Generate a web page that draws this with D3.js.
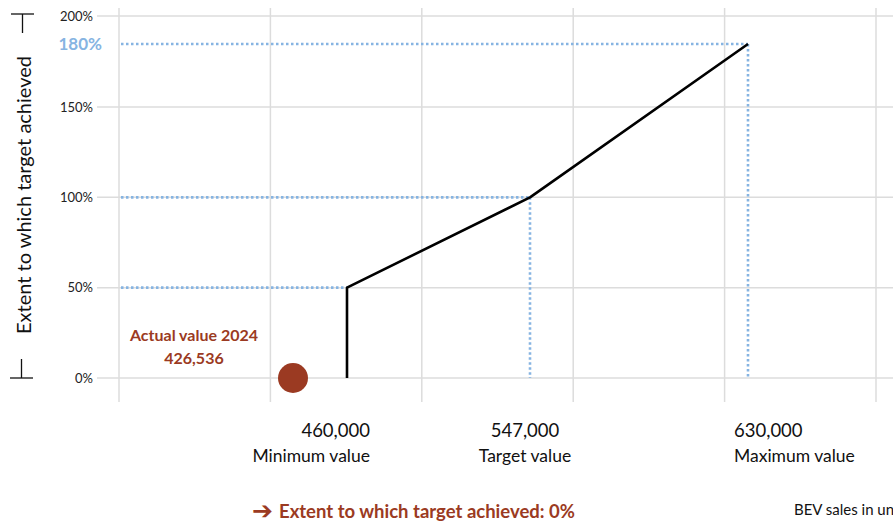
<!DOCTYPE html>
<html>
<head>
<meta charset="utf-8">
<script src="https://cdn.jsdelivr.net/npm/d3@7"></script>
<style>
  html, body { margin: 0; padding: 0; background: #fff; }
  svg { display: block; font-family: Lato, "Open Sans", sans-serif; }
</style>
</head>
<body>
<div id="chart"></div>
<script>
// ---- data ----
const yTicks = [0, 50, 100, 150, 200];
const thresholdNames = ["Minimum value", "Target value", "Maximum value"];
const thresholdValues = [460000, 547000, 630000];
const thresholdAchievement = [50, 100, 180];
const actualLabel = "Actual value 2024";
const actualValue = 426536;
const actualAchievement = 0;
const curveX = [460000, 460000, 547000, 630000];
const curveY = [0, 50, 100, 180];
const yTitle = "Extent to which target achieved";
const resultText = "Extent to which target achieved: 0%";
const unitText = "BEV sales in units";

// ---- layout ----
const W = 893, H = 524;
const svg = d3.select("#chart").append("svg").attr("width", W).attr("height", H);

// schematic (piecewise) scales, as in the original drawing
const y = d3.scaleLinear().domain([0, 150, 180, 200]).range([378, 107, 44, 16]);
const x = d3.scaleLinear()
  .domain([actualValue, ...thresholdValues])
  .range([293, 347, 530, 748]);
// vertical grid positions
const gx = d3.scaleLinear().domain([0, 5]).range([119, 876]);

const gridColor = "#dcdcdc";
const blue = "#86b4e2";
const red = "#9b3a22";

// grid
svg.append("g").selectAll("line").data(d3.range(6)).join("line")
  .attr("x1", d => gx(d)).attr("x2", d => gx(d))
  .attr("y1", 8).attr("y2", 402)
  .attr("stroke", gridColor).attr("stroke-width", 1.5);
svg.append("g").selectAll("line").data(yTicks).join("line")
  .attr("x1", 97).attr("x2", W)
  .attr("y1", d => y(d)).attr("y2", d => y(d))
  .attr("stroke", gridColor).attr("stroke-width", 1.5);

// y tick labels
svg.append("g").selectAll("text").data(yTicks).join("text")
  .attr("x", 93).attr("y", d => y(d)).attr("dy", "0.35em")
  .attr("text-anchor", "end").attr("font-size", 13).attr("fill", "#222")
  .text(d => d + "%");

// dotted guide lines
const guides = svg.append("g").attr("stroke", blue).attr("stroke-width", 2.6)
  .attr("stroke-dasharray", "2.5,2.5").attr("fill", "none");
thresholdValues.forEach((v, i) => {
  guides.append("line")
    .attr("x1", gx(0) + 2).attr("x2", x(v))
    .attr("y1", y(thresholdAchievement[i])).attr("y2", y(thresholdAchievement[i]));
  if (i > 0) {
    guides.append("line")
      .attr("x1", x(v)).attr("x2", x(v))
      .attr("y1", y(thresholdAchievement[i])).attr("y2", y(0));
  }
});

// 180% label
svg.append("text")
  .attr("x", 102).attr("y", y(thresholdAchievement[2])).attr("dy", "0.35em")
  .attr("text-anchor", "end").attr("font-size", 17).attr("font-weight", "bold")
  .attr("fill", blue).text(thresholdAchievement[2] + "%");

// curve
const pts = curveX.map((v, i) => [x(v), y(curveY[i])]);
svg.append("path")
  .attr("d", d3.line()(pts))
  .attr("fill", "none").attr("stroke", "#000").attr("stroke-width", 2.6)
  .attr("stroke-linejoin", "round");

// actual value
svg.append("circle")
  .attr("cx", x(actualValue)).attr("cy", y(actualAchievement)).attr("r", 15)
  .attr("fill", red);
const al = svg.append("text").attr("text-anchor", "middle")
  .attr("font-size", 16).attr("font-weight", "bold").attr("fill", red);
al.append("tspan").attr("x", 194).attr("y", 341).text(actualLabel);
al.append("tspan").attr("x", 194).attr("y", 364).text(d3.format(",")(actualValue));

// x threshold labels
const anchors = ["end", "middle", "start"];
const offsets = [23, -5, -14];
thresholdValues.forEach((v, i) => {
  const t = svg.append("text").attr("text-anchor", anchors[i]).attr("fill", "#111");
  t.append("tspan").attr("x", x(v) + offsets[i]).attr("y", 437)
    .attr("font-size", 18.5).text(d3.format(",")(v));
  t.append("tspan").attr("x", x(v) + offsets[i]).attr("y", 462)
    .attr("font-size", 17.5).text(thresholdNames[i]);
});

// y title with bracket marks
svg.append("text")
  .attr("transform", "translate(31,195) rotate(-90)")
  .attr("text-anchor", "middle").attr("font-size", 20).attr("fill", "#111")
  .text(yTitle);
const br = svg.append("g").attr("stroke", "#111").attr("stroke-width", 1.3);
br.append("line").attr("x1", 11).attr("x2", 34).attr("y1", 14).attr("y2", 14);
br.append("line").attr("x1", 22.5).attr("x2", 22.5).attr("y1", 14).attr("y2", 33);
br.append("line").attr("x1", 10).attr("x2", 33).attr("y1", 378).attr("y2", 378);
br.append("line").attr("x1", 21.5).attr("x2", 21.5).attr("y1", 359).attr("y2", 378);

// result text
svg.append("text").attr("x", 252).attr("y", 519)
  .attr("font-size", 25).attr("font-weight", "bold").attr("fill", red)
  .attr("font-family", "DejaVu Sans").text("➔");
svg.append("text").attr("x", 279).attr("y", 518)
  .attr("font-size", 18.5).attr("font-weight", "bold").attr("fill", red)
  .text(resultText);

// unit text (clipped by the right edge, as in the original)
svg.append("text").attr("x", 794).attr("y", 515)
  .attr("font-size", 15).attr("fill", "#111").text(unitText);
</script>
</body>
</html>
